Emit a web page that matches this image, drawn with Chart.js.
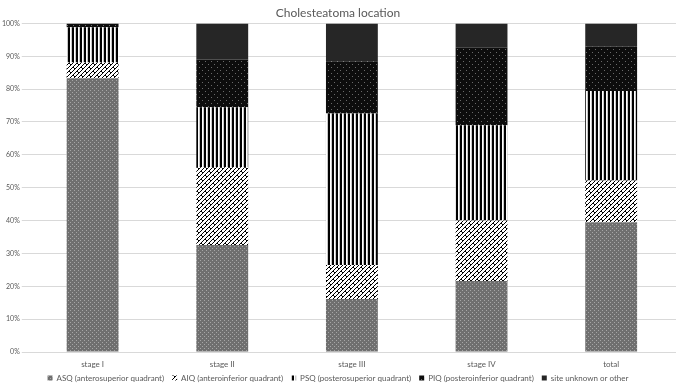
<!DOCTYPE html>
<html>
<head>
<meta charset="utf-8">
<script src="https://cdn.jsdelivr.net/npm/chart.js@4"></script>
<style>
  html, body { margin: 0; padding: 0; background: #fff; }
  #wrap { width: 676px; height: 386px; }
</style>
</head>
<body>
<div id="wrap"><canvas id="chart" width="676" height="386"></canvas></div>
<script>
// --- datos ---
const categories = ['stage I', 'stage II', 'stage III', 'stage IV', 'total'];
const seriesNames = [
  'ASQ (anterosuperior quadrant)',
  'AIQ (anteroinferior quadrant)',
  'PSQ (posterosuperior quadrant)',
  'PIQ (posteroinferior quadrant)',
  'site unknown or other'
];
const asq  = [83.3, 32.6, 16.1, 21.6, 39.5];
const aiq  = [4.8, 23.6, 10.4, 18.4, 12.7];
const psq  = [10.7, 18.3, 46.1, 29.0, 27.2];
const piq  = [1.2, 14.5, 15.9, 23.6, 13.5];
const site = [0, 11.0, 11.5, 7.4, 7.1];
const yTicks = [0, 10, 20, 30, 40, 50, 60, 70, 80, 90, 100];

// --- patrones ---
function makeTile(w, h, draw) {
  const c = document.createElement('canvas');
  c.width = w; c.height = h;
  const ctx = c.getContext('2d');
  draw(ctx);
  return document.createElement('canvas').getContext('2d').createPattern(c, 'repeat');
}

const dotsGray = makeTile(4, 4, ctx => {
  ctx.fillStyle = '#6f6f6f';
  ctx.fillRect(0, 0, 4, 4);
  ctx.fillStyle = '#a6a6a6';
  ctx.fillRect(0, 0, 1, 1);
  ctx.fillRect(2, 2, 1, 1);
});

const weave = makeTile(8, 8, ctx => {
  ctx.fillStyle = '#fff';
  ctx.fillRect(0, 0, 8, 8);
  ctx.strokeStyle = '#000';
  ctx.lineWidth = 1;
  ctx.beginPath();
  // diagonales "/"
  ctx.moveTo(-1, 9); ctx.lineTo(9, -1);
  ctx.moveTo(-5, 9); ctx.lineTo(5, -1);
  ctx.moveTo(3, 9); ctx.lineTo(13, -1);
  // trazos cortos "\"
  ctx.moveTo(1, 3); ctx.lineTo(3, 5);
  ctx.moveTo(5, 7); ctx.lineTo(7, 9);
  ctx.moveTo(5, -1); ctx.lineTo(7, 1);
  ctx.stroke();
});

const stripes = makeTile(4, 1, ctx => {
  ctx.fillStyle = '#000';
  ctx.fillRect(0, 0, 2, 1);
  ctx.fillStyle = '#fff';
  ctx.fillRect(2, 0, 1, 1);
  ctx.fillStyle = '#c8c8c8';
  ctx.fillRect(3, 0, 1, 1);
});

const dotsDark = makeTile(6, 6, ctx => {
  ctx.fillStyle = '#0d0d0d';
  ctx.fillRect(0, 0, 6, 6);
  ctx.fillStyle = '#6a6a6a';
  ctx.fillRect(1, 1, 1, 1);
  ctx.fillRect(4, 4, 1, 1);
});

const fills = [dotsGray, weave, stripes, dotsDark, '#262626'];
const values = [asq, aiq, psq, piq, site];

const FONT = 'Lato, "Open Sans", sans-serif';
const TEXT = '#595959';

// leyenda pegada a las etiquetas del eje x
const LEGEND_TRIM = 17.6;
const LEGEND_LIFT = 11.6;
const legendTrim = {
  id: 'legendTrim',
  afterInit(chart) {
    const lg = chart.legend;
    const fit = lg.fit;
    lg.fit = function () {
      fit.call(this);
      this.height -= LEGEND_TRIM;
    };
  },
  afterLayout(chart) {
    chart.legend.top -= LEGEND_LIFT;
    chart.legend.height += LEGEND_LIFT;
  }
};

new Chart(document.getElementById('chart'), {
  type: 'bar',
  data: {
    labels: categories,
    datasets: seriesNames.map((name, i) => ({
      label: name,
      data: values[i],
      backgroundColor: fills[i],
      borderWidth: 0,
      categoryPercentage: 1,
      barPercentage: 0.4
    }))
  },
  options: {
    responsive: false,
    animation: false,
    layout: { padding: 0 },
    scales: {
      x: {
        stacked: true,
        grid: { display: false, drawTicks: false },
        border: { display: false },
        ticks: { color: TEXT, font: { family: FONT, size: 8 }, padding: 8 }
      },
      y: {
        stacked: true,
        min: 0,
        max: 100,
        afterBuildTicks: axis => { axis.ticks = yTicks.map(v => ({ value: v })); },
        grid: { color: '#d9d9d9', lineWidth: 1, tickLength: 6 },
        border: { display: false },
        ticks: {
          color: TEXT,
          font: { family: FONT, size: 7 },
          padding: 2,
          callback: v => v + '%'
        }
      }
    },
    plugins: {
      title: {
        display: true,
        text: 'Cholesteatoma location',
        color: TEXT,
        font: { family: FONT, size: 12, weight: 'normal' },
        padding: { top: 6, bottom: 3 }
      },
      legend: {
        position: 'bottom',
        labels: {
          color: TEXT,
          font: { family: FONT, size: 8 },
          boxWidth: 5,
          boxHeight: 5,
          padding: 8
        }
      },
      tooltip: { enabled: false }
    }
  },
  plugins: [legendTrim]
});
</script>
</body>
</html>
